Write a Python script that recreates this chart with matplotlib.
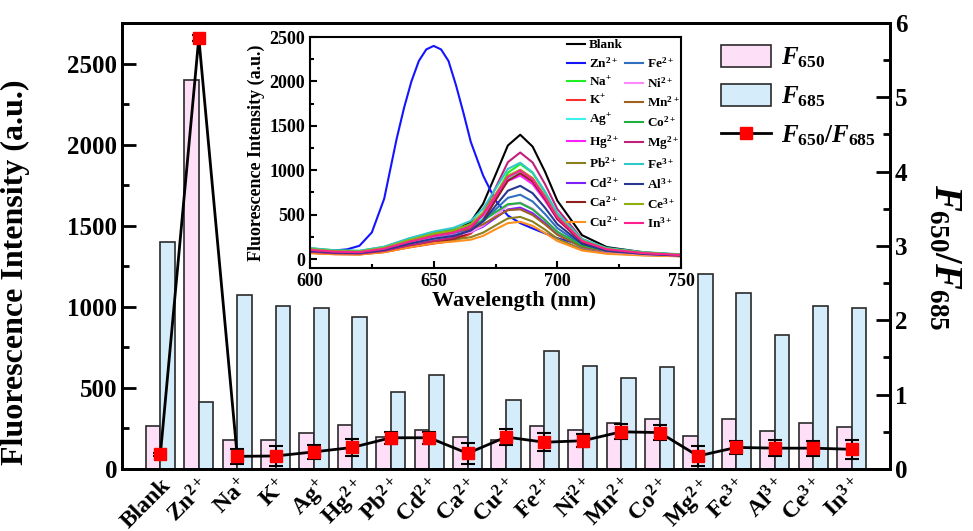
import numpy as np
import matplotlib
matplotlib.use('Agg')
import matplotlib.pyplot as plt
from matplotlib.patches import Patch
from matplotlib.lines import Line2D
from matplotlib.ticker import MultipleLocator

plt.rcParams['font.family'] = 'Liberation Serif'
plt.rcParams['font.weight'] = 'bold'
plt.rcParams['axes.labelweight'] = 'bold'
plt.rcParams['mathtext.fontset'] = 'custom'
plt.rcParams['mathtext.rm'] = 'Liberation Serif:bold'
plt.rcParams['mathtext.bf'] = 'Liberation Serif:bold'
plt.rcParams['mathtext.it'] = 'Liberation Serif:italic:bold'
plt.rcParams['mathtext.default'] = 'rm'

# ions tested
ions = ['Blank', 'Zn$^{2+}$', 'Na$^{+}$', 'K$^{+}$', 'Ag$^{+}$', 'Hg$^{2+}$', 'Pb$^{2+}$',
        'Cd$^{2+}$', 'Ca$^{2+}$', 'Cu$^{2+}$', 'Fe$^{2+}$', 'Ni$^{2+}$', 'Mn$^{2+}$',
        'Co$^{2+}$', 'Mg$^{2+}$', 'Fe$^{3+}$', 'Al$^{3+}$', 'Ce$^{3+}$', 'In$^{3+}$']

# intensities at 650 and 685 nm
f650 = [265, 2400, 180, 178, 222, 270, 200, 243, 195, 181, 262, 240, 283, 307, 206, 311, 233, 285, 260]
f685 = [1400, 412, 1070, 1005, 990, 940, 477, 580, 965, 426, 725, 635, 560, 630, 1200, 1085, 825, 1005, 995]

# ratio F650/F685 and its error
ratio = [0.20, 5.80, 0.17, 0.175, 0.23, 0.29, 0.42, 0.42, 0.21, 0.43, 0.36, 0.38, 0.50, 0.49,
         0.175, 0.29, 0.28, 0.28, 0.265]
ratio_err = [0.02, 0.04, 0.10, 0.13, 0.09, 0.12, 0.08, 0.08, 0.14, 0.11, 0.12, 0.09, 0.10, 0.10,
             0.13, 0.09, 0.11, 0.10, 0.13]

# emission spectra (inset)
wl = [600, 610, 620, 630, 640, 650, 658, 665, 670, 675, 680, 685, 690, 695, 700, 710, 720, 735, 750]
wl_zn = [600, 610, 615, 620, 625, 630, 635, 638, 641, 644, 647, 650, 653, 656, 659, 662, 665,
         670, 675, 680, 685, 690, 700, 710, 720, 735, 750]

sp_blank = [106, 85, 80, 119, 199, 265, 309, 419, 623, 948, 1279, 1400, 1267, 985, 658, 269, 135, 76, 49]
sp_zn = [95, 98, 110, 150, 300, 680, 1350, 1700, 2000, 2230, 2360, 2400, 2360, 2230, 1960, 1650,
         1320, 940, 660, 490, 405, 345, 235, 160, 110, 65, 45]
sp_na = [72, 58, 54, 81, 135, 180, 212, 298, 458, 713, 972, 1070, 970, 753, 502, 201, 99, 54, 34]
sp_k = [70, 56, 53, 79, 131, 175, 206, 286, 435, 673, 914, 1005, 911, 707, 471, 190, 94, 52, 33]
sp_ag = [88, 70, 66, 99, 165, 220, 254, 329, 467, 688, 912, 990, 894, 696, 467, 195, 102, 60, 40]
sp_hg = [108, 86, 81, 122, 203, 270, 306, 374, 494, 687, 880, 940, 845, 660, 448, 196, 109, 68, 47]
sp_pb = [78, 62, 59, 88, 146, 195, 218, 247, 298, 379, 458, 475, 423, 332, 230, 109, 66, 45, 33]
sp_cd = [96, 77, 72, 108, 180, 240, 268, 304, 365, 463, 559, 580, 517, 406, 281, 133, 81, 55, 41]
sp_ca = [78, 62, 59, 88, 146, 195, 226, 301, 440, 660, 884, 965, 873, 679, 454, 187, 96, 55, 36]
sp_cu = [66, 55, 52, 78, 132, 180, 198, 218, 262, 335, 405, 420, 374, 294, 204, 97, 60, 41, 31]
sp_fe2 = [104, 83, 78, 117, 195, 260, 292, 340, 423, 558, 690, 725, 649, 508, 349, 160, 94, 62, 45]
sp_ni = [94, 75, 71, 106, 176, 235, 263, 305, 377, 492, 606, 635, 568, 445, 306, 141, 84, 55, 40]
sp_mn = [112, 90, 84, 126, 210, 280, 310, 342, 392, 474, 551, 560, 496, 391, 274, 137, 88, 62, 47]
sp_co = [122, 98, 92, 137, 229, 305, 338, 374, 433, 527, 618, 630, 559, 440, 308, 152, 97, 68, 51]
sp_mg = [82, 66, 62, 92, 154, 205, 241, 337, 516, 801, 1091, 1200, 1088, 845, 563, 226, 112, 61, 38]
sp_fe3 = [124, 99, 93, 140, 233, 310, 352, 430, 569, 792, 1015, 1085, 976, 762, 517, 226, 125, 78, 54]
sp_al = [92, 74, 69, 104, 173, 230, 261, 321, 428, 599, 770, 825, 742, 579, 393, 171, 94, 58, 40]
sp_ce = [114, 91, 86, 128, 214, 285, 324, 396, 525, 732, 939, 1005, 904, 705, 479, 209, 115, 72, 50]
sp_in = [104, 83, 78, 117, 195, 260, 297, 370, 502, 713, 925, 995, 896, 699, 472, 203, 110, 67, 46]

spec_labels = ['Blank', 'Zn$^{2+}$', 'Na$^{+}$', 'K$^{+}$', 'Ag$^{+}$', 'Hg$^{2+}$', 'Pb$^{2+}$',
               'Cd$^{2+}$', 'Ca$^{2+}$', 'Cu$^{2+}$', 'Fe$^{2+}$', 'Ni$^{2+}$', 'Mn$^{2+}$',
               'Co$^{2+}$', 'Mg$^{2+}$', 'Fe$^{3+}$', 'Al$^{3+}$', 'Ce$^{3+}$', 'In$^{3+}$']
spec_colors = ['#000000', '#1414ff', '#22ee22', '#ff3030', '#40f0f0', '#ff20ff', '#8b8020',
               '#8020ff', '#902020', '#ff9020', '#3070c0', '#ff88ff', '#a06020', '#20b040',
               '#c0207a', '#30c8c8', '#283890', '#90b010', '#ff2090']

pink = '#fde0f8'
blue = '#d5ecfa'

fig = plt.figure(figsize=(9.73, 5.31), dpi=100)
ax = fig.add_axes([0.1254, 0.1168, 0.7893, 0.8399])
ax2 = ax.twinx()

x = np.arange(len(ions))
w = 0.38
ax.bar(x - w / 2, f650, w, color=pink, edgecolor='#2a2a2a', linewidth=1.2)
ax.bar(x + w / 2, f685, w, color=blue, edgecolor='#2a2a2a', linewidth=1.2)
ax.set_xlim(-1, len(ions))
ax.set_ylim(0, 2750)
ax.yaxis.set_major_locator(MultipleLocator(500))
ax.yaxis.set_minor_locator(MultipleLocator(250))
ax.set_xticks(x)
ax.set_xticklabels(ions, rotation=45, ha='right', va='top', rotation_mode='anchor', fontsize=17)
ax.tick_params(axis='x', length=0, pad=4)
ax.tick_params(axis='y', which='major', direction='in', length=10, width=2, labelsize=18)
ax.tick_params(axis='y', which='minor', direction='in', length=5, width=2)
ax.set_ylabel('Fluorescence Intensity (a.u.)', fontsize=23)
ax.yaxis.set_label_coords(-0.12, 0.44)

ax2.plot(x, ratio, '-s', color='black', lw=2, ms=8, mfc='red', mec='red', zorder=3)
ax2.errorbar(x, ratio, yerr=ratio_err, fmt='none', ecolor='black', elinewidth=1.5,
             capsize=5, capthick=1.5, zorder=2)
ax2.set_ylim(0, 6)
ax2.yaxis.set_major_locator(MultipleLocator(1))
ax2.yaxis.set_minor_locator(MultipleLocator(0.5))
ax2.tick_params(axis='y', which='major', direction='in', length=10, width=2, labelsize=18)
ax2.tick_params(axis='y', which='minor', direction='in', length=5, width=2)
ax2.set_ylabel(r'$\mathit{F}_{650}/\mathit{F}_{685}$', fontsize=28, rotation=270, va='center')
ax2.yaxis.set_label_coords(1.07, 0.475)
for a in (ax, ax2):
    for s in a.spines.values():
        s.set_linewidth(2)

handles = [Patch(facecolor=pink, edgecolor='#2a2a2a', linewidth=1.2),
           Patch(facecolor=blue, edgecolor='#2a2a2a', linewidth=1.2),
           Line2D([], [], color='black', lw=2, marker='s', ms=8, mfc='red', mec='red')]
ax2.legend(handles, [r'$\mathit{F}_{650}$', r'$\mathit{F}_{685}$',
                     r'$\mathit{F}_{650}/\mathit{F}_{685}$'],
           loc='upper left', bbox_to_anchor=(0.773, 0.962), frameon=False, fontsize=18,
           handlelength=2.0, handleheight=1.0, labelspacing=0.55, handletextpad=0.4,
           borderaxespad=0, borderpad=0.2)

# inset with spectra
ins = fig.add_axes([0.3186, 0.4953, 0.3813, 0.435])
spectra = [sp_blank, sp_zn, sp_na, sp_k, sp_ag, sp_hg, sp_pb, sp_cd, sp_ca, sp_cu, sp_fe2,
           sp_ni, sp_mn, sp_co, sp_mg, sp_fe3, sp_al, sp_ce, sp_in]
lines = []
for i, (sp, lab, col) in enumerate(zip(spectra, spec_labels, spec_colors)):
    xs = wl_zn if i == 1 else wl
    ln, = ins.plot(xs, sp, color=col, lw=1.5, label=lab)
    lines.append(ln)
ins.set_xlim(600, 750)
ins.set_ylim(-100, 2500)
ins.xaxis.set_major_locator(MultipleLocator(50))
ins.xaxis.set_minor_locator(MultipleLocator(25))
ins.yaxis.set_major_locator(MultipleLocator(500))
ins.yaxis.set_minor_locator(MultipleLocator(250))
ins.tick_params(which='major', direction='in', length=5, width=1.5, labelsize=13)
ins.tick_params(which='minor', direction='in', length=3, width=1.5)
ins.set_xlabel('Wavelength (nm)', fontsize=16)
ins.xaxis.set_label_coords(0.55, -0.1)
ins.set_ylabel('Fluorescence Intensity (a.u.)', fontsize=13, labelpad=3)
for s in ins.spines.values():
    s.set_linewidth(1.5)

blank_handle = Line2D([], [], linestyle='none')
leg_handles = lines[:10] + [blank_handle] + lines[10:]
leg_labels = spec_labels[:10] + [''] + spec_labels[10:]
ins.legend(leg_handles, leg_labels, ncol=2, loc='upper left', bbox_to_anchor=(0.675, 1.02),
           frameon=False, fontsize=9.5, handlelength=1.4, labelspacing=0.38,
           columnspacing=0.15, handletextpad=0.25, borderaxespad=0.1)

fig.savefig('out.png', dpi=100)
